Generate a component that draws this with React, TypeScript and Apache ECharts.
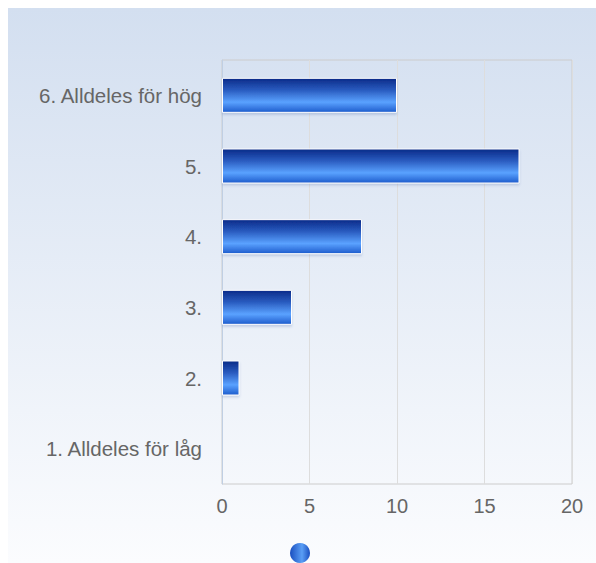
import React, { useEffect, useRef } from "react";
import * as echarts from "echarts";

const categories = ["1. Alldeles för låg", "2.", "3.", "4.", "5.", "6. Alldeles för hög"];
const values = [0, 1, 4, 8, 17, 10];
const xTicks = [0, 5, 10, 15, 20];

export default function App() {
  const ref = useRef<HTMLDivElement>(null);
  useEffect(() => {
    const chart = echarts.init(ref.current!, null, { renderer: "svg" });
    const barGrad = new echarts.graphic.LinearGradient(0, 0, 0, 1, [
      { offset: 0, color: "#0a2a88" },
      { offset: 0.35, color: "#2a5cc0" },
      { offset: 0.7, color: "#5aa2ff" },
      { offset: 1, color: "#1d5bcc" },
    ]);
    chart.setOption({
      animation: false,
      backgroundColor: new echarts.graphic.LinearGradient(0, 0, 0, 1, [
        { offset: 0, color: "#d3dff0" },
        { offset: 1, color: "#fbfcfe" },
      ]),
      grid: { left: 214, right: 24, top: 52, bottom: 79, show: true, borderColor: "#cccccc", borderWidth: 1 },
      xAxis: {
        type: "value",
        min: xTicks[0],
        max: xTicks[xTicks.length - 1],
        interval: 5,
        axisLine: { show: false },
        axisTick: { show: false },
        splitLine: { show: true, lineStyle: { color: "#dddddd", width: 1 } },
        axisLabel: { color: "#666666", fontSize: 20, fontFamily: "Liberation Sans, Arial, sans-serif", margin: 12 },
      },
      yAxis: {
        type: "category",
        data: categories,
        axisLine: { show: true, lineStyle: { color: "#c0cfe3", width: 1 } },
        axisTick: { show: false },
        splitLine: { show: false },
        axisLabel: { color: "#666666", fontSize: 20.5, fontFamily: "Liberation Sans, Arial, sans-serif", margin: 20 },
      },
      series: [
        {
          type: "bar",
          data: values,
          barWidth: 35,
          itemStyle: {
            color: barGrad,
            borderColor: "#ffffff",
            borderWidth: 1,
            shadowColor: "rgba(80,110,170,0.25)",
            shadowBlur: 2,
            shadowOffsetY: 2,
          },
        },
      ],
      graphic: [
        {
          type: "circle",
          shape: { cx: 292, cy: 545, r: 10 },
          style: {
            fill: new echarts.graphic.LinearGradient(0, 0, 1, 0, [
              { offset: 0, color: "#1a4fc0" },
              { offset: 0.6, color: "#5a9ef5" },
              { offset: 1, color: "#1a4fc0" },
            ]),
          },
        },
      ],
    });
    return () => chart.dispose();
  }, []);
  return (
    <div
      ref={ref}
      style={{ position: "absolute", left: 8, top: 8, width: 588, height: 555 }}
    />
  );
}
